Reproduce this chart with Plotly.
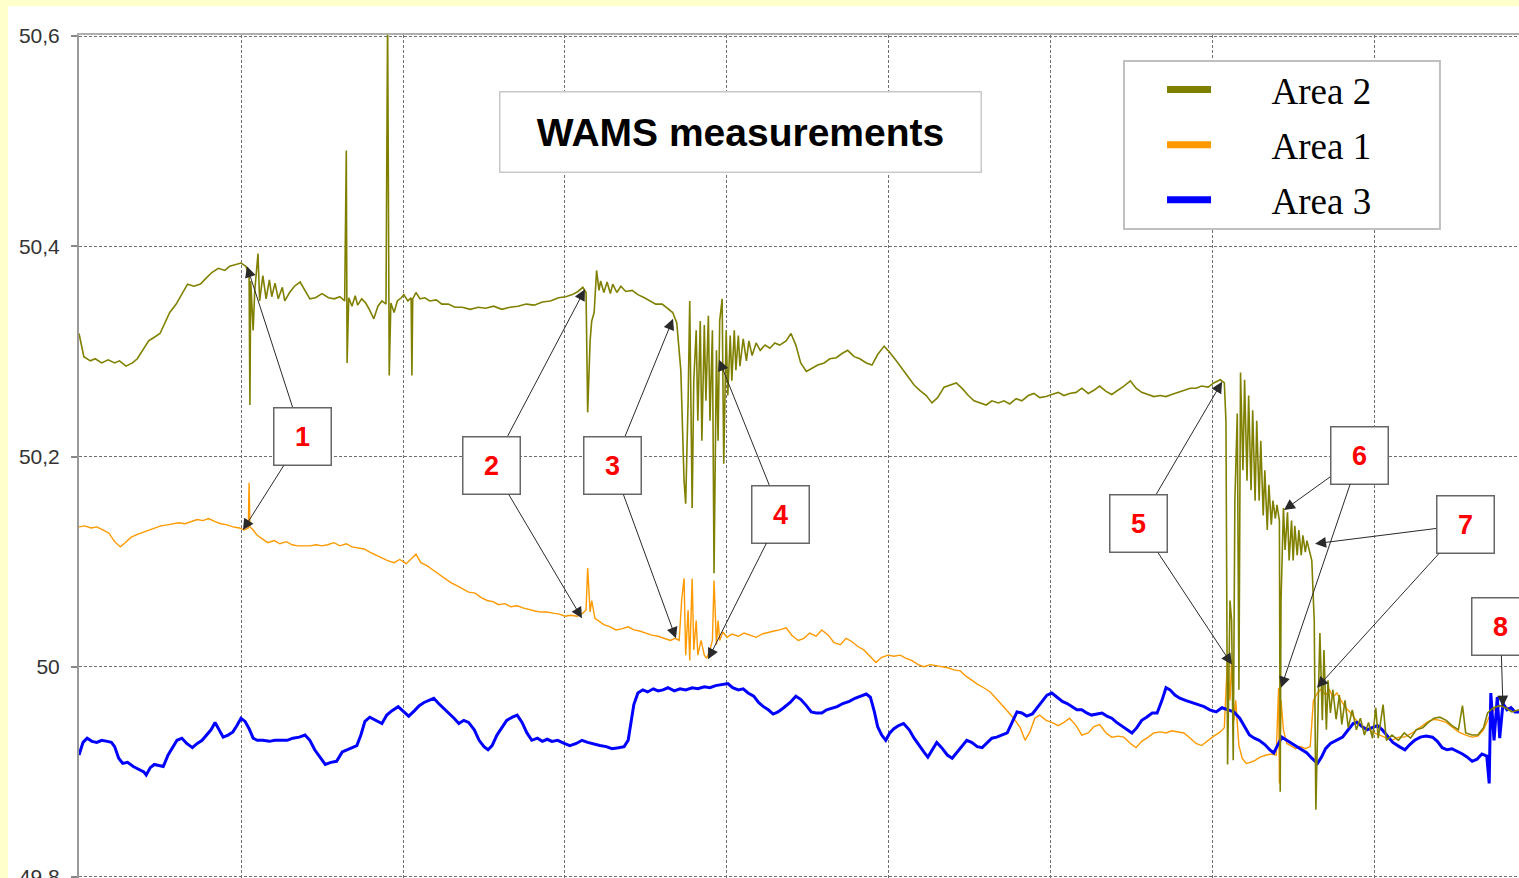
import plotly.graph_objects as go

# WAMS frequency recordings (Hz) against time (grid step = 10 units)
area2 = [(0.0, 50.317), (0.3, 50.295), (0.7, 50.291), (1.0, 50.293), (1.4, 50.289), (1.8, 50.292), (2.2, 50.289),
         (2.5, 50.291), (2.9, 50.286), (3.3, 50.289), (3.6, 50.293), (4.0, 50.303), (4.3, 50.310), (4.6, 50.313),
         (5.0, 50.317), (5.3, 50.327), (5.6, 50.337), (6.0, 50.345), (6.4, 50.356), (6.7, 50.364), (7.1, 50.362),
         (7.5, 50.364), (7.8, 50.369), (8.2, 50.375), (8.6, 50.379), (9.0, 50.377), (9.3, 50.381), (9.7, 50.383),
         (10.0, 50.384), (10.3, 50.381), (10.5, 50.372), (10.55, 50.249), (10.6, 50.367), (10.75, 50.320),
         (10.85, 50.358), (11.05, 50.393), (11.15, 50.348), (11.35, 50.372), (11.55, 50.350), (11.75, 50.368),
         (11.9, 50.352), (12.1, 50.365), (12.3, 50.350), (12.55, 50.361), (12.7, 50.348), (13.0, 50.356),
         (13.3, 50.362), (13.65, 50.366), (13.95, 50.358), (14.25, 50.350), (14.6, 50.351), (15.0, 50.355),
         (15.4, 50.351), (15.75, 50.350), (16.1, 50.352), (16.4, 50.348), (16.5, 50.491), (16.55, 50.289),
         (16.65, 50.351), (16.85, 50.343), (17.05, 50.353), (17.2, 50.344), (17.45, 50.350), (17.7, 50.346),
         (17.95, 50.339), (18.2, 50.331), (18.45, 50.343), (18.7, 50.348), (18.95, 50.345), (19.05, 50.62),
         (19.15, 50.277), (19.25, 50.346), (19.45, 50.337), (19.65, 50.348), (19.9, 50.351), (20.05, 50.354),
         (20.3, 50.348), (20.5, 50.351), (20.55, 50.277), (20.6, 50.350), (20.8, 50.356), (21.05, 50.350),
         (21.35, 50.351), (21.65, 50.348), (22.05, 50.349), (22.4, 50.345), (22.8, 50.345), (23.2, 50.342),
         (23.65, 50.342), (24.15, 50.340), (24.65, 50.342), (25.1, 50.341), (25.6, 50.343), (26.1, 50.340),
         (26.6, 50.342), (27.1, 50.343), (27.6, 50.345), (28.1, 50.344), (28.6, 50.347), (29.1, 50.348),
         (29.6, 50.351), (30.05, 50.352), (30.45, 50.354), (30.8, 50.357), (31.1, 50.361), (31.3, 50.356),
         (31.4, 50.242), (31.55, 50.310), (31.65, 50.329), (31.8, 50.337), (31.95, 50.377), (32.1, 50.358),
         (32.2, 50.367), (32.4, 50.356), (32.6, 50.366), (32.8, 50.355), (32.95, 50.364), (33.2, 50.356),
         (33.45, 50.362), (33.75, 50.357), (34.15, 50.358), (34.5, 50.354), (34.9, 50.351), (35.25, 50.348),
         (35.6, 50.345), (36.0, 50.345), (36.35, 50.341), (36.65, 50.337), (36.9, 50.327), (37.15, 50.282),
         (37.35, 50.177), (37.45, 50.155), (37.6, 50.253), (37.7, 50.348), (37.85, 50.151), (37.95, 50.272),
         (38.1, 50.320), (38.2, 50.234), (38.35, 50.329), (38.45, 50.215), (38.6, 50.325), (38.7, 50.253),
         (38.85, 50.334), (38.95, 50.234), (39.1, 50.320), (39.2, 50.089), (39.35, 50.301), (39.45, 50.215),
         (39.55, 50.329), (39.7, 50.350), (39.8, 50.193), (39.95, 50.320), (40.05, 50.258), (40.2, 50.315),
         (40.3, 50.272), (40.45, 50.320), (40.55, 50.282), (40.7, 50.315), (40.8, 50.286), (41.0, 50.312),
         (41.2, 50.291), (41.35, 50.310), (41.55, 50.296), (41.8, 50.308), (42.05, 50.301), (42.35, 50.306),
         (42.65, 50.303), (42.95, 50.308), (43.25, 50.306), (43.65, 50.310), (43.95, 50.317), (44.25, 50.306),
         (44.55, 50.289), (44.9, 50.281), (45.25, 50.284), (45.6, 50.287), (46.0, 50.289), (46.35, 50.293),
         (46.75, 50.294), (47.1, 50.298), (47.45, 50.301), (47.85, 50.295), (48.2, 50.293), (48.6, 50.289),
         (48.95, 50.287), (49.3, 50.297), (49.7, 50.305), (50.05, 50.299), (50.45, 50.291), (50.8, 50.284),
         (51.2, 50.276), (51.55, 50.268), (51.9, 50.263), (52.3, 50.258), (52.65, 50.251), (53.0, 50.256),
         (53.4, 50.266), (53.75, 50.268), (54.15, 50.270), (54.5, 50.265), (54.9, 50.258), (55.25, 50.253),
         (55.6, 50.251), (56.0, 50.249), (56.35, 50.253), (56.75, 50.251), (57.1, 50.253), (57.45, 50.250),
         (57.85, 50.255), (58.2, 50.253), (58.6, 50.258), (58.95, 50.260), (59.3, 50.256), (59.7, 50.257),
         (60.05, 50.259), (60.45, 50.261), (60.8, 50.258), (61.15, 50.260), (61.55, 50.261), (61.9, 50.265),
         (62.3, 50.260), (62.65, 50.263), (63.0, 50.267), (63.4, 50.262), (63.75, 50.259), (64.15, 50.263),
         (64.5, 50.267), (64.9, 50.272), (65.25, 50.265), (65.6, 50.261), (66.0, 50.259), (66.35, 50.257),
         (66.75, 50.258), (67.1, 50.257), (67.45, 50.259), (67.85, 50.261), (68.2, 50.263), (68.6, 50.265),
         (68.95, 50.265), (69.3, 50.267), (69.7, 50.266), (70.05, 50.270), (70.45, 50.273), (70.7, 50.270),
         (70.8, 50.234), (70.9, 49.907), (71.05, 50.063), (71.15, 50.044), (71.25, 49.911), (71.35, 50.158),
         (71.5, 50.241), (71.6, 49.978), (71.7, 50.280), (71.85, 50.187), (71.95, 50.273), (72.1, 50.177),
         (72.2, 50.258), (72.35, 50.168), (72.45, 50.244), (72.6, 50.158), (72.7, 50.234), (72.85, 50.158),
         (72.95, 50.215), (73.1, 50.144), (73.2, 50.187), (73.35, 50.130), (73.45, 50.173), (73.6, 50.135),
         (73.7, 50.158), (73.85, 50.141), (73.95, 50.154), (74.1, 50.139), (74.15, 49.881), (74.2, 50.063),
         (74.35, 50.151), (74.45, 50.111), (74.6, 50.147), (74.7, 50.101), (74.85, 50.139), (74.95, 50.101),
         (75.05, 50.134), (75.2, 50.106), (75.3, 50.130), (75.45, 50.106), (75.55, 50.125), (75.7, 50.109),
         (75.8, 50.120), (76.0, 50.109), (76.1, 50.101), (76.25, 50.044), (76.35, 49.864), (76.5, 49.968),
         (76.6, 50.032), (76.75, 49.949), (76.85, 50.016), (77.0, 49.940), (77.1, 49.987), (77.25, 49.956),
         (77.4, 49.978), (77.6, 49.950), (77.8, 49.973), (77.95, 49.945), (78.15, 49.968), (78.35, 49.942),
         (78.6, 49.959), (78.85, 49.940), (79.1, 49.951), (79.35, 49.935), (79.6, 49.947), (79.85, 49.932),
         (80.05, 49.961), (80.2, 49.932), (80.5, 49.964), (80.7, 49.930), (81.05, 49.935), (81.45, 49.930),
         (81.8, 49.937), (82.2, 49.932), (82.55, 49.940), (82.95, 49.942), (83.3, 49.947), (83.65, 49.951),
         (84.0, 49.952), (84.4, 49.949), (84.75, 49.944), (85.15, 49.940), (85.4, 49.963), (85.6, 49.937),
         (86.0, 49.935), (86.35, 49.935), (86.7, 49.942), (86.95, 49.956), (87.3, 49.961), (87.7, 49.963),
         (88.05, 49.961), (88.45, 49.957), (88.9, 49.959)]

area1 = [(0.0, 50.133), (0.35, 50.134), (0.75, 50.132), (1.1, 50.133), (1.5, 50.130), (1.85, 50.127), (2.2, 50.119),
         (2.55, 50.114), (2.85, 50.118), (3.2, 50.123), (3.6, 50.126), (3.95, 50.128), (4.3, 50.130), (4.7, 50.132),
         (5.05, 50.134), (5.45, 50.135), (5.8, 50.136), (6.15, 50.137), (6.55, 50.136), (6.9, 50.138), (7.3, 50.140),
         (7.65, 50.139), (8.0, 50.141), (8.4, 50.138), (8.75, 50.136), (9.15, 50.135), (9.5, 50.133), (9.9, 50.132),
         (10.2, 50.130), (10.45, 50.132), (10.5, 50.175), (10.55, 50.133), (10.75, 50.130), (11.0, 50.125),
         (11.3, 50.122), (11.65, 50.118), (12.05, 50.120), (12.4, 50.117), (12.8, 50.119), (13.15, 50.116),
         (13.5, 50.115), (13.9, 50.115), (14.25, 50.115), (14.65, 50.116), (15.0, 50.115), (15.35, 50.116),
         (15.75, 50.118), (16.1, 50.115), (16.5, 50.117), (16.85, 50.114), (17.2, 50.113), (17.6, 50.112),
         (17.95, 50.109), (18.35, 50.106), (18.7, 50.104), (19.05, 50.101), (19.45, 50.099), (19.8, 50.102),
         (20.2, 50.098), (20.5, 50.103), (20.8, 50.107), (21.1, 50.099), (21.5, 50.096), (21.85, 50.092),
         (22.2, 50.088), (22.6, 50.084), (22.95, 50.080), (23.35, 50.077), (23.7, 50.074), (24.05, 50.071),
         (24.45, 50.070), (24.8, 50.066), (25.2, 50.063), (25.55, 50.062), (25.9, 50.059), (26.3, 50.060),
         (26.65, 50.057), (27.05, 50.058), (27.4, 50.056), (27.8, 50.054), (28.15, 50.053), (28.5, 50.052),
         (28.9, 50.052), (29.25, 50.051), (29.65, 50.050), (30.0, 50.048), (30.35, 50.049), (30.75, 50.048),
         (31.1, 50.051), (31.3, 50.054), (31.4, 50.094), (31.55, 50.052), (31.65, 50.063), (31.85, 50.046),
         (32.1, 50.043), (32.4, 50.040), (32.8, 50.038), (33.15, 50.035), (33.5, 50.036), (33.9, 50.038),
         (34.25, 50.035), (34.6, 50.034), (35.0, 50.032), (35.35, 50.030), (35.75, 50.029), (36.1, 50.027),
         (36.5, 50.025), (36.8, 50.027), (37.05, 50.025), (37.2, 50.063), (37.35, 50.084), (37.45, 50.011),
         (37.6, 50.054), (37.7, 50.006), (37.85, 50.084), (37.95, 50.016), (38.1, 50.044), (38.2, 50.011),
         (38.4, 50.025), (38.6, 50.011), (38.75, 50.008), (38.95, 50.016), (39.1, 50.025), (39.2, 50.082),
         (39.35, 50.021), (39.45, 50.044), (39.55, 50.025), (39.75, 50.033), (40.0, 50.028), (40.3, 50.031),
         (40.7, 50.029), (41.05, 50.032), (41.4, 50.030), (41.8, 50.028), (42.15, 50.031), (42.55, 50.033),
         (42.9, 50.034), (43.25, 50.035), (43.65, 50.037), (44.0, 50.030), (44.4, 50.025), (44.75, 50.027),
         (45.1, 50.032), (45.5, 50.029), (45.85, 50.035), (46.25, 50.030), (46.6, 50.023), (47.0, 50.021),
         (47.35, 50.027), (47.7, 50.024), (48.1, 50.019), (48.45, 50.016), (48.85, 50.010), (49.2, 50.004),
         (49.55, 50.009), (49.95, 50.011), (50.3, 50.010), (50.7, 50.011), (51.05, 50.008), (51.4, 50.006),
         (51.8, 50.002), (52.15, 50.000), (52.55, 50.002), (52.9, 50.001), (53.25, 50.000), (53.65, 49.999),
         (54.0, 49.997), (54.4, 49.996), (54.75, 49.991), (55.1, 49.987), (55.5, 49.983), (55.85, 49.980),
         (56.25, 49.976), (56.6, 49.970), (57.0, 49.963), (57.35, 49.957), (57.7, 49.951), (58.1, 49.942),
         (58.4, 49.930), (58.7, 49.938), (59.0, 49.951), (59.3, 49.954), (59.7, 49.949), (60.05, 49.947),
         (60.45, 49.944), (60.8, 49.947), (61.15, 49.951), (61.55, 49.944), (61.9, 49.935), (62.3, 49.937),
         (62.65, 49.943), (63.0, 49.945), (63.4, 49.937), (63.75, 49.933), (64.15, 49.934), (64.5, 49.933),
         (64.9, 49.927), (65.25, 49.923), (65.6, 49.929), (66.0, 49.933), (66.35, 49.937), (66.75, 49.938),
         (67.1, 49.937), (67.45, 49.939), (67.85, 49.938), (68.2, 49.937), (68.6, 49.932), (68.95, 49.927),
         (69.3, 49.925), (69.7, 49.930), (70.05, 49.934), (70.45, 49.938), (70.7, 49.942), (70.8, 49.977),
         (70.9, 50.006), (71.05, 49.968), (71.15, 50.006), (71.3, 49.949), (71.4, 49.968), (71.6, 49.925),
         (71.8, 49.913), (72.05, 49.908), (72.3, 49.909), (72.6, 49.911), (72.9, 49.914), (73.3, 49.916),
         (73.65, 49.917), (73.9, 49.916), (74.05, 49.980), (74.1, 49.889), (74.2, 49.968), (74.35, 49.940),
         (74.55, 49.927), (74.8, 49.925), (75.1, 49.922), (75.4, 49.924), (75.7, 49.922), (76.0, 49.924),
         (76.2, 49.968), (76.45, 49.975), (76.7, 49.979), (76.95, 49.973), (77.2, 49.978), (77.4, 49.971),
         (77.65, 49.975), (77.9, 49.968), (78.2, 49.961), (78.5, 49.956), (78.85, 49.949), (79.2, 49.944),
         (79.6, 49.940), (79.95, 49.937), (80.3, 49.935), (80.7, 49.932), (81.05, 49.930), (81.45, 49.933),
         (81.8, 49.933), (82.2, 49.936), (82.55, 49.940), (82.95, 49.944), (83.3, 49.948), (83.65, 49.950),
         (84.0, 49.949), (84.4, 49.947), (84.75, 49.943), (85.15, 49.938), (85.6, 49.935), (86.0, 49.933),
         (86.35, 49.934), (86.7, 49.940), (87.1, 49.954), (87.45, 49.961), (87.85, 49.963), (88.2, 49.961),
         (88.6, 49.957), (88.9, 49.957)]

area3 = [(0.0, 49.916), (0.25, 49.928), (0.5, 49.932), (0.8, 49.929), (1.1, 49.928), (1.4, 49.930), (1.75, 49.929),
         (2.0, 49.928), (2.2, 49.924), (2.45, 49.913), (2.7, 49.908), (3.0, 49.909), (3.35, 49.905), (3.7, 49.902),
         (4.0, 49.900), (4.15, 49.897), (4.4, 49.904), (4.65, 49.907), (4.9, 49.906), (5.2, 49.905), (5.5, 49.916),
         (5.85, 49.925), (6.05, 49.930), (6.35, 49.932), (6.65, 49.927), (7.0, 49.923), (7.3, 49.927), (7.6, 49.930),
         (7.9, 49.935), (8.15, 49.940), (8.4, 49.947), (8.65, 49.940), (8.9, 49.933), (9.2, 49.935), (9.5, 49.938),
         (9.75, 49.944), (10.0, 49.951), (10.25, 49.948), (10.5, 49.941), (10.75, 49.932), (11.0, 49.930),
         (11.35, 49.930), (11.75, 49.929), (12.1, 49.930), (12.45, 49.930), (12.85, 49.930), (13.2, 49.932),
         (13.6, 49.933), (13.95, 49.935), (14.25, 49.930), (14.55, 49.921), (14.9, 49.913), (15.2, 49.907),
         (15.55, 49.909), (15.9, 49.910), (16.25, 49.919), (16.55, 49.921), (16.85, 49.923), (17.15, 49.925),
         (17.4, 49.935), (17.65, 49.948), (17.95, 49.952), (18.35, 49.949), (18.7, 49.946), (19.0, 49.954),
         (19.3, 49.958), (19.7, 49.962), (20.05, 49.957), (20.35, 49.953), (20.7, 49.958), (21.0, 49.963),
         (21.3, 49.966), (21.6, 49.968), (21.9, 49.970), (22.2, 49.965), (22.55, 49.960), (22.85, 49.956),
         (23.15, 49.951), (23.45, 49.946), (23.75, 49.949), (24.05, 49.947), (24.4, 49.940), (24.7, 49.930),
         (25.0, 49.924), (25.25, 49.921), (25.5, 49.925), (25.8, 49.935), (26.1, 49.942), (26.4, 49.949),
         (26.75, 49.952), (27.05, 49.954), (27.35, 49.947), (27.65, 49.937), (27.95, 49.930), (28.3, 49.932),
         (28.6, 49.929), (28.9, 49.931), (29.2, 49.929), (29.55, 49.930), (29.95, 49.927), (30.3, 49.925),
         (30.7, 49.927), (31.05, 49.930), (31.4, 49.928), (31.8, 49.926), (32.15, 49.925), (32.55, 49.924),
         (32.9, 49.922), (33.3, 49.923), (33.65, 49.924), (33.9, 49.930), (34.05, 49.945), (34.25, 49.964),
         (34.5, 49.975), (34.8, 49.978), (35.1, 49.976), (35.45, 49.979), (35.75, 49.977), (36.05, 49.978),
         (36.35, 49.980), (36.75, 49.977), (37.1, 49.979), (37.45, 49.978), (37.85, 49.980), (38.2, 49.979),
         (38.6, 49.981), (38.95, 49.980), (39.3, 49.982), (39.7, 49.983), (40.05, 49.984), (40.35, 49.980),
         (40.7, 49.978), (41.0, 49.979), (41.3, 49.975), (41.65, 49.972), (41.95, 49.966), (42.25, 49.962),
         (42.55, 49.959), (42.85, 49.955), (43.15, 49.957), (43.5, 49.961), (43.9, 49.966), (44.25, 49.972),
         (44.55, 49.969), (44.9, 49.963), (45.2, 49.957), (45.5, 49.956), (45.85, 49.956), (46.15, 49.959),
         (46.5, 49.961), (46.8, 49.962), (47.15, 49.965), (47.55, 49.967), (47.9, 49.970), (48.25, 49.972),
         (48.6, 49.974), (48.85, 49.971), (49.1, 49.957), (49.3, 49.943), (49.55, 49.935), (49.8, 49.930),
         (50.05, 49.937), (50.3, 49.941), (50.6, 49.944), (50.9, 49.946), (51.25, 49.940), (51.55, 49.932),
         (51.85, 49.925), (52.15, 49.919), (52.4, 49.914), (52.65, 49.921), (52.95, 49.928), (53.25, 49.923),
         (53.6, 49.916), (53.9, 49.913), (54.2, 49.919), (54.5, 49.925), (54.8, 49.930), (55.1, 49.928),
         (55.45, 49.924), (55.75, 49.923), (56.05, 49.928), (56.35, 49.932), (56.65, 49.933), (57.0, 49.935),
         (57.3, 49.937), (57.6, 49.947), (57.9, 49.957), (58.2, 49.956), (58.5, 49.953), (58.85, 49.955),
         (59.15, 49.961), (59.45, 49.968), (59.75, 49.973), (60.05, 49.975), (60.35, 49.971), (60.7, 49.967),
         (61.0, 49.965), (61.3, 49.962), (61.6, 49.959), (61.9, 49.959), (62.2, 49.956), (62.5, 49.954),
         (62.85, 49.955), (63.15, 49.956), (63.45, 49.953), (63.75, 49.951), (64.05, 49.947), (64.4, 49.943),
         (64.7, 49.940), (65.0, 49.937), (65.3, 49.942), (65.6, 49.949), (65.9, 49.952), (66.25, 49.956),
         (66.55, 49.956), (66.85, 49.968), (67.1, 49.980), (67.35, 49.978), (67.65, 49.973), (67.95, 49.970),
         (68.3, 49.968), (68.7, 49.966), (69.05, 49.964), (69.45, 49.962), (69.8, 49.959), (70.2, 49.957),
         (70.55, 49.961), (70.9, 49.959), (71.3, 49.957), (71.65, 49.951), (71.95, 49.943), (72.25, 49.935),
         (72.55, 49.932), (72.85, 49.930), (73.2, 49.926), (73.5, 49.921), (73.75, 49.918), (74.0, 49.925),
         (74.25, 49.933), (74.55, 49.930), (74.85, 49.927), (75.2, 49.924), (75.5, 49.921), (75.8, 49.918),
         (76.1, 49.913), (76.45, 49.908), (76.7, 49.914), (76.95, 49.922), (77.25, 49.927), (77.6, 49.930),
         (78.0, 49.933), (78.35, 49.940), (78.65, 49.946), (78.9, 49.947), (79.2, 49.943), (79.5, 49.940),
         (79.85, 49.942), (80.15, 49.944), (80.45, 49.940), (80.8, 49.933), (81.1, 49.928), (81.5, 49.924),
         (81.85, 49.921), (82.15, 49.926), (82.45, 49.930), (82.8, 49.933), (83.15, 49.934), (83.55, 49.933),
         (83.85, 49.929), (84.15, 49.923), (84.45, 49.921), (84.75, 49.922), (85.05, 49.920), (85.4, 49.917),
         (85.7, 49.914), (86.0, 49.910), (86.3, 49.912), (86.6, 49.917), (86.9, 49.915), (87.05, 49.889),
         (87.15, 49.975), (87.35, 49.930), (87.55, 49.971), (87.7, 49.932), (87.9, 49.965), (88.15, 49.959),
         (88.4, 49.961), (88.65, 49.957), (88.9, 49.957)]

y_tickvals = [49.8, 50.0, 50.2, 50.4, 50.6]
y_ticktext = ["49,8", "50", "50,2", "50,4", "50,6"]

series_names = ["Area 2", "Area 1", "Area 3"]
series_colors = {"Area 2": "#808000", "Area 1": "#FF9900", "Area 3": "#0000FF"}

# numbered call-outs: label, box centre, arrow tips
callouts = [
    ("1", 13.77, 50.219, [(10.37, 50.381), (10.12, 50.130)]),
    ("2", 25.49, 50.191, [(31.23, 50.359), (31.05, 50.046)]),
    ("3", 32.96, 50.191, [(36.67, 50.331), (36.85, 50.027)]),
    ("4", 43.33, 50.145, [(39.51, 50.292), (38.83, 50.007)]),
    ("5", 65.43, 50.136, [(70.56, 50.271), (71.17, 50.002)]),
    ("6", 79.07, 50.201, [(74.38, 50.149), (74.20, 49.980)]),
    ("7", 85.56, 50.135, [(76.30, 50.117), (76.42, 49.980)]),
    ("8", 87.75, 50.038, [(87.90, 49.962)]),
]

fig = go.Figure()

# draw order: orange below, blue, then olive on top
for name, pts, width in [("Area 1", area1, 1.4), ("Area 3", area3, 3), ("Area 2", area2, 1.6)]:
    xs, ys = zip(*pts)
    fig.add_trace(go.Scatter(x=xs, y=ys, mode="lines", name=name, showlegend=False,
                             line=dict(color=series_colors[name], width=width)))

# legend entries with thick swatches
pad = "\u00a0" * 6
for name in series_names:
    fig.add_trace(go.Scatter(x=[None], y=[None], mode="lines", name=pad + name, legendgroup=name,
                             line=dict(color=series_colors[name], width=7)))

for label, bx, by, tips in callouts:
    for tx, ty in tips:
        fig.add_annotation(x=tx, y=ty, ax=bx, ay=by, xref="x", yref="y", axref="x", ayref="y",
                           text="<b>" + label + "</b>", showarrow=True,
                           arrowhead=2, arrowsize=2.2, arrowwidth=1, arrowcolor="#2a2a2a", standoff=0,
                           font=dict(family="Liberation Sans", size=27, color="#FF0000"),
                           bgcolor="white", bordercolor="#666666", borderwidth=1.5, borderpad=0,
                           width=56, height=56)

fig.add_annotation(x=40.86, y=50.509, xref="x", yref="y", showarrow=False,
                   text="<b>WAMS measurements</b>",
                   font=dict(family="Liberation Sans", size=39, color="black"),
                   bgcolor="white", bordercolor="#c8c8c8", borderwidth=1.5, width=478, height=77)

# white panel on the yellow page and the legend frame
fig.add_shape(type="rect", xref="paper", yref="paper", x0=-0.0493, x1=1.05, y0=-0.05, y1=1.0344,
              fillcolor="white", line=dict(width=0), layer="below")
fig.add_shape(type="rect", xref="paper", yref="paper", x0=0.7257, x1=0.9451, y0=0.7699, y1=0.9692,
              fillcolor="white", line=dict(color="#c0c0c0", width=2), layer="above")

grid_dash = "3px,2px"
fig.update_xaxes(range=[0, 88.89], tick0=0, dtick=10, showticklabels=False, ticks="",
                 showgrid=True, gridcolor="#707070", gridwidth=1, griddash=grid_dash,
                 side="top", showline=True, linecolor="#b0b0b0", linewidth=2, zeroline=False,
                 automargin=False)
fig.update_yaxes(range=[49.799, 50.601], tickvals=y_tickvals, ticktext=y_ticktext,
                 showgrid=True, gridcolor="#707070", gridwidth=1, griddash=grid_dash,
                 showline=True, linecolor="#999999", linewidth=2, zeroline=False,
                 ticks="outside", ticklen=6, tickwidth=1.5, tickcolor="#888888", ticklabelstandoff=7,
                 ticklabeloverflow="allow", automargin=False,
                 tickfont=dict(family="Liberation Sans", size=21, color="#333333"))

fig.update_layout(
    width=1519, height=878,
    margin=dict(l=79, r=0, t=35, b=0, autoexpand=False),
    paper_bgcolor="#FFFFCC", plot_bgcolor="white",
    legend=dict(x=0.7521, y=0.9715, xanchor="left", yanchor="top",
                bgcolor="rgba(0,0,0,0)", borderwidth=0, itemwidth=44, tracegroupgap=4,
                font=dict(family="Liberation Serif", size=37, color="black")),
)

fig.write_html("out.html", config={"displayModeBar": False},
               post_script="document.body.style.margin='0';document.body.style.overflow='hidden';")
